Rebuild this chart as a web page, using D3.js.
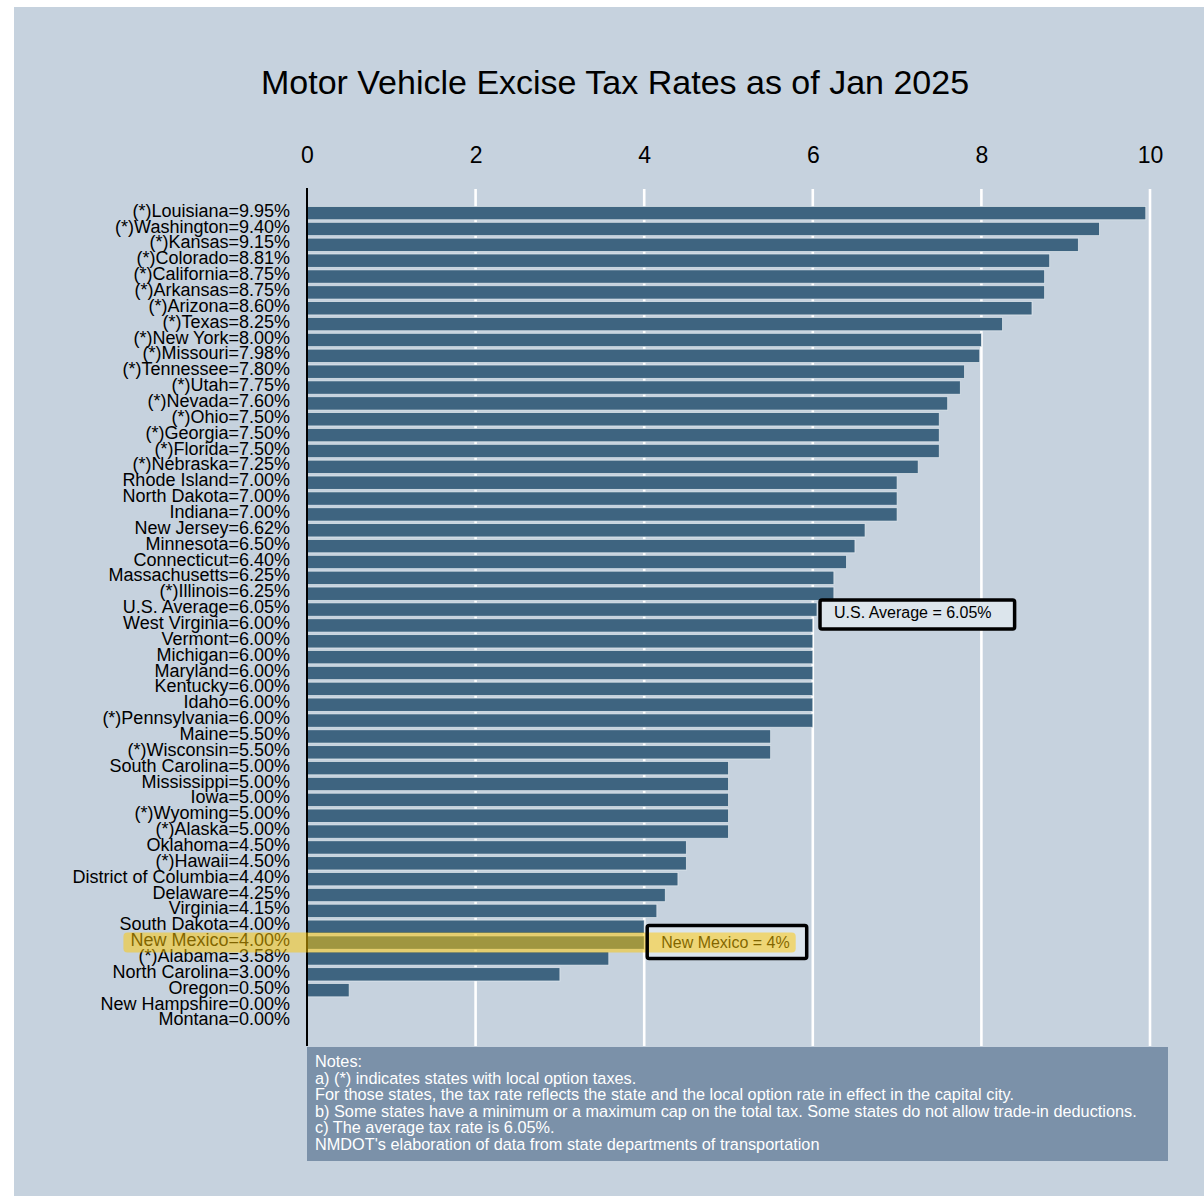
<!DOCTYPE html>
<html>
<head>
<meta charset="utf-8">
<script src="https://cdn.jsdelivr.net/npm/d3@7"></script>
<style>
  body { margin: 0; background: #fff; }
  text { font-family: "Liberation Sans", Arial, sans-serif; }
</style>
</head>
<body>
<svg id="chart" width="1204" height="1196"></svg>
<script>
// data
const states = ['Louisiana', 'Washington', 'Kansas', 'Colorado', 'California', 'Arkansas', 'Arizona',
  'Texas', 'New York', 'Missouri', 'Tennessee', 'Utah', 'Nevada', 'Ohio', 'Georgia', 'Florida',
  'Nebraska', 'Rhode Island', 'North Dakota', 'Indiana', 'New Jersey', 'Minnesota', 'Connecticut',
  'Massachusetts', 'Illinois', 'U.S. Average', 'West Virginia', 'Vermont', 'Michigan', 'Maryland',
  'Kentucky', 'Idaho', 'Pennsylvania', 'Maine', 'Wisconsin', 'South Carolina', 'Mississippi', 'Iowa',
  'Wyoming', 'Alaska', 'Oklahoma', 'Hawaii', 'District of Columbia', 'Delaware', 'Virginia',
  'South Dakota', 'New Mexico', 'Alabama', 'North Carolina', 'Oregon', 'New Hampshire', 'Montana'];
const rates = [9.95, 9.40, 9.15, 8.81, 8.75, 8.75, 8.60, 8.25, 8.00, 7.98, 7.80, 7.75, 7.60, 7.50,
  7.50, 7.50, 7.25, 7.00, 7.00, 7.00, 6.62, 6.50, 6.40, 6.25, 6.25, 6.05, 6.00, 6.00, 6.00, 6.00,
  6.00, 6.00, 6.00, 5.50, 5.50, 5.00, 5.00, 5.00, 5.00, 5.00, 4.50, 4.50, 4.40, 4.25, 4.15, 4.00,
  4.00, 3.58, 3.00, 0.50, 0.00, 0.00];
// 1 = state has local option taxes, shown with (*)
const localOption = [1, 1, 1, 1, 1, 1, 1, 1, 1, 1, 1, 1, 1, 1, 1, 1, 1, 0, 0, 0, 0, 0, 0, 0, 1, 0,
  0, 0, 0, 0, 0, 0, 1, 0, 1, 0, 0, 0, 1, 1, 0, 1, 0, 0, 0, 0, 0, 1, 0, 0, 0, 0];
const xTicks = [0, 2, 4, 6, 8, 10];

const title = 'Motor Vehicle Excise Tax Rates as of Jan 2025';
const notes = [
  'Notes:',
  'a) (*) indicates states with local option taxes.',
  'For those states, the tax rate reflects the state and the local option rate in effect in the capital city.',
  'b) Some states have a minimum or a maximum cap on the total tax. Some states do not allow trade-in deductions.',
  'c) The average tax rate is 6.05%.',
  "NMDOT's elaboration of data from state departments of transportation"
];

const rows = states.map((s, i) => ({
  name: s,
  rate: rates[i],
  label: (localOption[i] ? '(*)' : '') + s + '=' + rates[i].toFixed(2) + '%'
}));

const svg = d3.select('#chart');
const W = 1204, H = 1196;

// panel background
svg.append('rect')
  .attr('x', 14).attr('y', 7)
  .attr('width', W - 14).attr('height', H - 7)
  .attr('fill', '#c6d2de');

const x = d3.scaleLinear().domain([0, 10]).range([307, 1150]);
const y = d3.scaleBand()
  .domain(states)
  .range([189, 1046])
  .paddingInner(0.16)
  .paddingOuter(1.1);

// title
svg.append('text')
  .attr('x', 615).attr('y', 94)
  .attr('text-anchor', 'middle')
  .attr('font-size', 34)
  .attr('fill', '#000')
  .text(title);

// grid lines
svg.append('g')
  .selectAll('line')
  .data(xTicks.filter(d => d > 0))
  .join('line')
  .attr('x1', d => x(d)).attr('x2', d => x(d))
  .attr('y1', 189).attr('y2', 1046)
  .attr('stroke', '#fff')
  .attr('stroke-width', 2.6);

// top axis labels
const xAxis = d3.axisTop(x).tickValues(xTicks).tickSize(0).tickPadding(0).tickFormat(d3.format('d'));
const gx = svg.append('g')
  .attr('transform', 'translate(0,163)')
  .call(xAxis);
gx.select('.domain').remove();
gx.selectAll('text')
  .attr('font-size', 23)
  .attr('fill', '#000')
  .attr('dy', 0)
  .style('font-family', '"Liberation Sans", Arial, sans-serif');

// bars
svg.append('g')
  .selectAll('rect')
  .data(rows)
  .join('rect')
  .attr('x', x(0))
  .attr('y', d => y(d.name))
  .attr('width', d => x(d.rate) - x(0))
  .attr('height', y.bandwidth())
  .attr('fill', '#3e6480')
  .attr('stroke', 'rgba(235,241,245,0.8)')
  .attr('stroke-width', d => d.rate > 0 ? 0.8 : 0);

// state labels (packed tightly, as in the original)
svg.append('g')
  .selectAll('text')
  .data(rows)
  .join('text')
  .attr('class', 'lbl')
  .attr('x', x(0) - 17)
  .attr('y', d => y(d.name) + y.bandwidth() / 2)
  .attr('dy', '0.2em')
  .attr('text-anchor', 'end')
  .attr('font-size', 18)
  .attr('fill', '#000')
  .text(d => d.label);

// y axis line
svg.append('line')
  .attr('x1', x(0)).attr('x2', x(0))
  .attr('y1', 188).attr('y2', 1046)
  .attr('stroke', '#000')
  .attr('stroke-width', 2);

// annotation boxes
function annotate(name, txt, textDy, boxTop, boxBottom, padRight) {
  const row = rows.find(r => r.name === name);
  const cy = y(name) + y.bandwidth() / 2;
  const bx = x(row.rate) + 3;
  const g = svg.append('g');
  const box = g.append('rect');
  const t = g.append('text')
    .attr('x', bx + 14)
    .attr('y', cy + textDy)
    .attr('font-size', 16)
    .attr('fill', '#000')
    .text(txt);
  const tw = t.node().getComputedTextLength();
  box.attr('x', bx).attr('y', cy + boxTop)
    .attr('width', tw + 14 + padRight).attr('height', boxBottom - boxTop)
    .attr('rx', 2)
    .attr('fill', '#dce5ec');
  return { g, box, t, cy, bx, tw };
}

function outline(a) {
  svg.append('rect')
    .attr('x', a.box.attr('x')).attr('y', a.box.attr('y'))
    .attr('width', a.box.attr('width')).attr('height', a.box.attr('height'))
    .attr('rx', 2)
    .attr('fill', 'none').attr('stroke', '#000').attr('stroke-width', 3.5);
}

const usa = annotate('U.S. Average', 'U.S. Average = 6.05%', 8.5, -9.5, 19.5, 23);
outline(usa);

const nm = annotate('New Mexico', 'New Mexico = 4%', 5, -17, 16, 17);

// highlight band over the New Mexico row
const nmLabel = svg.selectAll('.lbl').filter(d => d.name === 'New Mexico').node();
const lb = nmLabel.getBBox();
svg.append('rect')
  .attr('x', lb.x - 7)
  .attr('y', nm.cy - 10)
  .attr('width', (nm.bx + 14 + nm.tw + 6) - (lb.x - 7))
  .attr('height', 20)
  .attr('rx', 4)
  .attr('fill', 'rgba(255,200,0,0.5)');

outline(nm);

// notes box
svg.append('rect')
  .attr('x', x(0)).attr('y', 1047)
  .attr('width', 1168 - x(0)).attr('height', 114)
  .attr('fill', '#7b91a9');

svg.append('g')
  .selectAll('text')
  .data(notes)
  .join('text')
  .attr('x', x(0) + 8)
  .attr('y', (d, i) => 1067 + i * 16.5)
  .attr('font-size', 16.3)
  .attr('fill', '#fff')
  .text(d => d);
</script>
</body>
</html>
